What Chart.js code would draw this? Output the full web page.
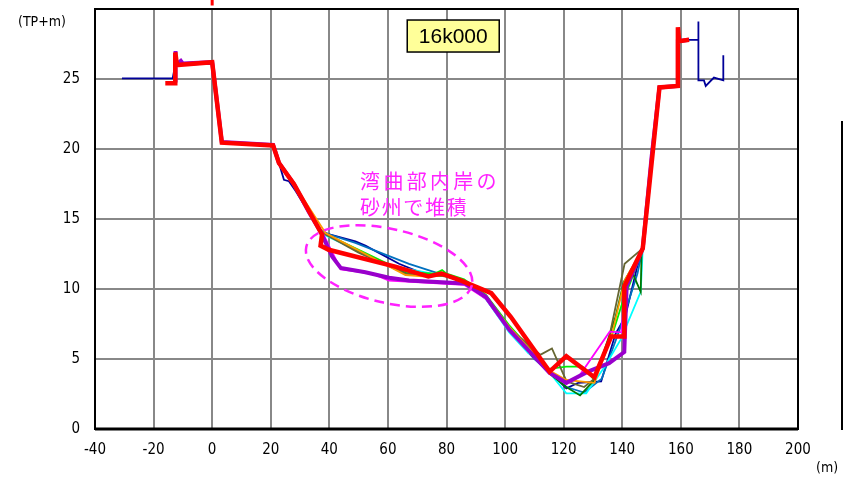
<!DOCTYPE html>
<html lang="ja">
<head>
<meta charset="utf-8">
<title>16k000 横断図</title>
<script src="https://cdn.jsdelivr.net/npm/chart.js@4.4.1/dist/chart.umd.min.js"></script>
<style>
  body { margin: 0; background: #fff; }
  #wrap { position: relative; width: 843px; height: 479px; }
</style>
</head>
<body>
<div id="wrap"><canvas id="danmen" width="843" height="479"></canvas></div>
<script>
// 軸の目盛り
const xTicks = [-40, -20, 0, 20, 40, 60, 80, 100, 120, 140, 160, 180, 200];
const yTicks = [0, 5, 10, 15, 20, 25, 30];

// 左岸・右岸の共通部分（細線用）
const leftBank = [
    {x: -12.6, y: 24.9}, {x: -12.6, y: 27.0}, {x: -12.4, y: 26.0}, {x: -10.7, y: 26.3},
    {x: -10, y: 26.1}, {x: 0, y: 26.2}, {x: 3.3, y: 20.5}, {x: 20.8, y: 20.3},
    {x: 22.8, y: 19.0}, {x: 27.9, y: 17.5}
];
const rightBank = [
    {x: 147, y: 12.9}, {x: 150, y: 19.4}, {x: 152.7, y: 24.4}, {x: 159, y: 24.5},
    {x: 159, y: 27.7}, {x: 162.8, y: 27.8}
];

// 各年の河道部
const navyPts = [
    {x: -30.8, y: 25.05}, {x: -13.5, y: 25.05}, {x: -12.6, y: 26.0}, {x: 0, y: 26.1},
    {x: 3.3, y: 20.5}, {x: 20.8, y: 20.3}, {x: 22.8, y: 19.0}, {x: 24.5, y: 17.8},
    {x: 26.2, y: 17.7}, {x: 28.5, y: 17.0}, {x: 37, y: 14.1}, {x: 40, y: 13.9},
    {x: 48.9, y: 13.4}, {x: 52.3, y: 13.1}, {x: 63.8, y: 11.8}, {x: 72, y: 11.1},
    {x: 80, y: 11.0}, {x: 86, y: 10.5}, {x: 93.4, y: 9.4}, {x: 101.4, y: 7.2},
    {x: 110, y: 5.2}, {x: 120.9, y: 2.9}, {x: 125, y: 3.3}, {x: 132.8, y: 3.4},
    {x: 137.7, y: 6.8}, {x: 141, y: 8.0}, {x: 145, y: 11.5}
];
const navyRight = [
    {x: 166, y: 27.8}, {x: 166, y: 29.1}, {x: 166, y: 24.9}, {x: 167.9, y: 24.9},
    {x: 168.5, y: 24.5}, {x: 171.3, y: 25.1}, {x: 174.5, y: 24.9}, {x: 174.5, y: 26.7}
];
const bluePts = [
    {x: 37, y: 14.2}, {x: 39.9, y: 13.9}, {x: 48.9, y: 13.3}, {x: 67.2, y: 11.8},
    {x: 77.5, y: 11.1}, {x: 86, y: 10.5}, {x: 93.4, y: 9.3}, {x: 101.4, y: 7.0},
    {x: 110, y: 5.0}, {x: 120.9, y: 3.0}, {x: 127, y: 2.6}, {x: 133, y: 3.6},
    {x: 139.1, y: 7.1}, {x: 145.2, y: 11.1}
];
const cyanPts = [
    {x: 37, y: 14.0}, {x: 60, y: 11.7}, {x: 80, y: 10.9}, {x: 86, y: 10.5},
    {x: 93.4, y: 9.3}, {x: 101.4, y: 6.9}, {x: 108, y: 5.4}, {x: 109.9, y: 5.4},
    {x: 120.9, y: 2.55}, {x: 127.7, y: 2.55}, {x: 134, y: 4.45}, {x: 139.5, y: 6.4},
    {x: 146.3, y: 9.8}
];
const greenPts = [
    {x: 37, y: 14.1}, {x: 50, y: 12.8}, {x: 66, y: 11.2}, {x: 76, y: 11.1},
    {x: 78.5, y: 11.35}, {x: 80, y: 11.1}, {x: 86, y: 10.7}, {x: 93.4, y: 9.6},
    {x: 101.4, y: 7.4}, {x: 110, y: 5.4}, {x: 115, y: 4.3}, {x: 120.9, y: 4.45},
    {x: 126.4, y: 4.45}, {x: 130.5, y: 3.5}, {x: 137, y: 7.0}, {x: 140, y: 9.0},
    {x: 143, y: 10.6}
];
const dkGreenPts = [
    {x: 37, y: 14.1}, {x: 50, y: 12.7}, {x: 66, y: 11.1}, {x: 80, y: 10.9},
    {x: 86, y: 10.6}, {x: 93.4, y: 9.5}, {x: 101.4, y: 7.2}, {x: 115, y: 4.0},
    {x: 120.9, y: 3.0}, {x: 125.6, y: 2.4}, {x: 130.5, y: 3.5}, {x: 137.7, y: 8.0},
    {x: 140.5, y: 10.5}, {x: 143, y: 11.4}, {x: 146.3, y: 9.8}, {x: 146.6, y: 12.6}
];
const olivePts = [
    {x: 37, y: 14.1}, {x: 50, y: 12.6}, {x: 66, y: 11.1}, {x: 80, y: 10.9},
    {x: 86, y: 10.5}, {x: 93.4, y: 9.4}, {x: 101.4, y: 7.2}, {x: 112, y: 5.3},
    {x: 116, y: 5.75}, {x: 121, y: 3.4}, {x: 127, y: 3.0}, {x: 130.5, y: 3.6},
    {x: 135, y: 6.0}, {x: 140.8, y: 11.8}
];
const orangePts = [
    {x: 38.7, y: 14.0}, {x: 66, y: 11.0}, {x: 72, y: 10.9}, {x: 80, y: 11.0},
    {x: 86, y: 10.6}, {x: 93.4, y: 9.5}, {x: 101.4, y: 7.3}, {x: 115, y: 4.2},
    {x: 120.9, y: 3.5}, {x: 130.5, y: 3.3}, {x: 136.3, y: 6.6}, {x: 140.8, y: 10.6}
];
const magentaPts = [
    {x: 34.8, y: 15.0}, {x: 37.5, y: 14.1}, {x: 43.9, y: 11.4}, {x: 54.6, y: 11.1},
    {x: 60.4, y: 10.6}, {x: 86, y: 10.3}, {x: 93.4, y: 9.3}, {x: 101.4, y: 7.0},
    {x: 115, y: 4.0}, {x: 120.9, y: 3.2}, {x: 125, y: 3.7}, {x: 135.7, y: 6.95},
    {x: 139.7, y: 6.9}, {x: 141, y: 10.2}
];
const purplePts = [
    {x: 33, y: 15.5}, {x: 37, y: 14.1}, {x: 41, y: 12.3}, {x: 43.9, y: 11.5},
    {x: 52.3, y: 11.2}, {x: 60.4, y: 10.8}, {x: 67.2, y: 10.6}, {x: 86.3, y: 10.4},
    {x: 93.4, y: 9.45}, {x: 101.4, y: 7.1}, {x: 115.2, y: 4.0}, {x: 120.9, y: 3.3},
    {x: 128.3, y: 4.1}, {x: 135.5, y: 4.7}, {x: 140.7, y: 5.5}, {x: 141.5, y: 10.2}
];
// 最新断面（赤太線）
const redPts = [
    {x: -16, y: 24.7}, {x: -12.6, y: 24.7}, {x: -12.6, y: 26.9}, {x: -12, y: 26.0},
    {x: 0, y: 26.2}, {x: 3.3, y: 20.45}, {x: 20.8, y: 20.25}, {x: 22.8, y: 19.0},
    {x: 27.9, y: 17.5}, {x: 37.5, y: 13.9}, {x: 37, y: 13.1}, {x: 39.8, y: 12.8},
    {x: 62.5, y: 11.6}, {x: 73.8, y: 10.9}, {x: 78.3, y: 11.1}, {x: 85, y: 10.6},
    {x: 95.3, y: 9.7}, {x: 102, y: 8.0}, {x: 115.2, y: 4.1}, {x: 120.9, y: 5.2},
    {x: 130.5, y: 3.7}, {x: 136.2, y: 6.6}, {x: 140.7, y: 6.6}, {x: 140.7, y: 10.2},
    {x: 147, y: 12.9}, {x: 152.7, y: 24.4}, {x: 159, y: 24.5}, {x: 159, y: 28.7},
    {x: 159.4, y: 27.7}, {x: 162.8, y: 27.8}
];
// 枠の上の距離標マーク
const markPts = [{x: 0, y: 30.25}, {x: 0, y: 30.75}];

// 注記
const noteLines = ['湾曲部内岸の', '砂州で堆積'];
const notePitch = [23.3, 21.6];
const noteAt = {x: 50.5, y: 17.7};
const ellipseAt = {x: 60.4, y: 11.64};
const sectionName = '16k000';
const sectionAt = {x: 82.3, y: 28.07};

const FONT = "'DejaVu Sans Condensed', 'Liberation Sans Narrow', 'DejaVu Sans', sans-serif";

function line(label, data, color, width) {
    return {
        label: label,
        data: data,
        borderColor: color,
        backgroundColor: color,
        borderWidth: width,
        pointRadius: 0,
        tension: 0,
        fill: false
    };
}

// 枠線・注記・文字を描くプラグイン
const decoPlugin = {
    id: 'deco',
    afterDraw(chart) {
        const ctx = chart.ctx;
        const a = chart.chartArea;
        const xs = chart.scales.x, ys = chart.scales.y;
        ctx.save();

        // 外枠
        ctx.strokeStyle = '#000';
        ctx.lineWidth = 2;
        ctx.strokeRect(a.left, a.top, a.right - a.left, a.bottom - a.top);
        ctx.lineWidth = 3;
        ctx.beginPath();
        ctx.moveTo(a.left, a.bottom);
        ctx.lineTo(a.right, a.bottom);
        ctx.stroke();

        // 右端の凡例枠の一部
        ctx.lineWidth = 2;
        ctx.beginPath();
        ctx.moveTo(842, 121);
        ctx.lineTo(842, 430);
        ctx.stroke();

        // 単位
        ctx.fillStyle = '#000';
        ctx.font = '14px ' + FONT;
        ctx.textBaseline = 'middle';
        ctx.textAlign = 'left';
        ctx.fillText('(TP+m)', 18, 22);
        ctx.fillText('(m)', 816, 468);

        // 断面名の箱
        const bx = xs.getPixelForValue(sectionAt.x);
        const by = ys.getPixelForValue(sectionAt.y);
        ctx.fillStyle = '#FFFF99';
        ctx.fillRect(bx - 46, by - 16, 92, 32);
        ctx.lineWidth = 1.5;
        ctx.strokeRect(bx - 46, by - 16, 92, 32);
        ctx.fillStyle = '#000';
        ctx.font = '21px Arial, "Liberation Sans", sans-serif';
        ctx.textAlign = 'center';
        ctx.fillText(sectionName, bx, by + 1);

        // 注記文字
        ctx.fillStyle = '#FF22FF';
        ctx.font = '20px "Noto Sans CJK JP", sans-serif';
        ctx.textAlign = 'left';
        const tx = xs.getPixelForValue(noteAt.x);
        const ty = ys.getPixelForValue(noteAt.y);
        noteLines.forEach((s, i) => {
            [...s].forEach((c, j) => ctx.fillText(c, tx + j * notePitch[i], ty + i * 26));
        });

        // 点線の楕円
        const ex = xs.getPixelForValue(ellipseAt.x);
        const ey = ys.getPixelForValue(ellipseAt.y);
        ctx.strokeStyle = '#FF22FF';
        ctx.lineWidth = 2.5;
        ctx.setLineDash([10, 6]);
        ctx.beginPath();
        ctx.ellipse(ex, ey, 85, 37, 13 * Math.PI / 180, 0, Math.PI * 2);
        ctx.stroke();

        ctx.restore();
    }
};

const datasets = [
    Object.assign(line('mark', markPts, '#FF0000', 3), {clip: false}),
    line('red', redPts, '#FF0000', 4.5),
    line('purple', leftBank.concat(purplePts, rightBank), '#9900CC', 4),
    line('magenta', leftBank.concat(magentaPts, rightBank), '#FF00FF', 1.8),
    line('orange', leftBank.concat(orangePts, rightBank), '#FF9900', 1.8),
    line('olive', leftBank.concat(olivePts, rightBank), '#666633', 1.8),
    line('dkgreen', leftBank.concat(dkGreenPts, rightBank), '#007700', 1.8),
    line('green', leftBank.concat(greenPts, rightBank), '#00EE00', 1.8),
    line('cyan', leftBank.concat(cyanPts, rightBank), '#00FFFF', 1.8),
    line('blue', leftBank.concat(bluePts, rightBank), '#0070C0', 1.8),
    line('navy', navyPts.concat(rightBank, navyRight), '#000099', 1.8)
];

new Chart(document.getElementById('danmen'), {
    type: 'line',
    data: { datasets: datasets },
    options: {
        responsive: false,
        animation: false,
        layout: { padding: { top: 9, right: 45, left: 0, bottom: 0 } },
        plugins: {
            legend: { display: false },
            tooltip: { enabled: false }
        },
        scales: {
            x: {
                type: 'linear',
                min: xTicks[0],
                max: xTicks[xTicks.length - 1],
                afterBuildTicks: s => { s.ticks = xTicks.map(v => ({value: v})); },
                afterFit: s => { s.height = 50; s.paddingLeft = 0; s.paddingRight = 0; },
                grid: { color: '#888', lineWidth: 2, drawTicks: false },
                border: { display: false },
                ticks: { color: '#000', padding: 12, font: { family: FONT, size: 15 } }
            },
            y: {
                type: 'linear',
                min: yTicks[0],
                max: yTicks[yTicks.length - 1],
                afterBuildTicks: s => { s.ticks = yTicks.map(v => ({value: v})); },
                afterFit: s => { s.width = 95; s.paddingTop = 0; s.paddingBottom = 0; },
                grid: { color: '#888', lineWidth: 2, drawTicks: false },
                border: { display: false },
                ticks: {
                    color: '#000', padding: 15, font: { family: FONT, size: 15 },
                    callback: v => (v === 30 ? '' : v)
                }
            }
        }
    },
    plugins: [decoPlugin]
});
</script>
</body>
</html>
